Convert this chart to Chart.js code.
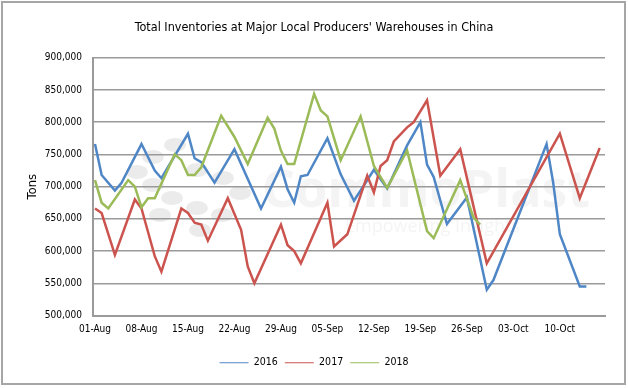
<!DOCTYPE html>
<html>
<head>
<meta charset="utf-8">
<script src="https://cdn.jsdelivr.net/npm/chart.js@4.4.0/dist/chart.umd.min.js"></script>
<style>
  html, body { margin: 0; padding: 0; background: #fff; }
</style>
</head>
<body>
<canvas id="myChart" width="628" height="388"></canvas>
<script>
// tick labels on the date axis (day 0 = 01-Aug)
const tickLabels = ["01-Aug", "08-Aug", "15-Aug", "22-Aug", "29-Aug", "05-Sep",
  "12-Sep", "19-Sep", "26-Sep", "03-Oct", "10-Oct"];
const tickDays = [0, 7, 14, 21, 28, 35, 42, 49, 56, 63, 70];

// 2016 (days after 01-Aug, tons)
const days2016 = [0, 1, 3, 4, 7, 9, 10, 14, 15, 16, 18, 21, 25, 28, 29, 30, 31, 32,
  35, 37, 39, 42, 44, 47, 49, 50, 51, 53, 56, 59, 60, 68, 69, 70, 73, 74];
const tons2016 = [766000, 718000, 694000, 706000, 766000, 725000, 713000, 782000,
  744000, 738000, 706000, 758000, 666000, 731000, 696000, 675000, 716000, 718000,
  775000, 719000, 678000, 726000, 697000, 764000, 800000, 734000, 715000, 642000,
  683000, 540000, 555000, 766000, 706000, 626000, 545000, 545000];

// 2017
const days2017 = [0, 1, 3, 6, 7, 9, 10, 13, 14, 15, 16, 17, 20, 22, 23, 24, 28, 29,
  30, 31, 35, 36, 38, 41, 42, 43, 44, 45, 47, 48, 50, 52, 55, 59, 70, 73, 76];
const tons2017 = [666000, 659000, 594000, 680000, 666000, 592000, 568000, 666000,
  659000, 644000, 641000, 616000, 682000, 633000, 576000, 550000, 641000, 609000,
  600000, 581000, 675000, 607000, 626000, 717000, 691000, 732000, 741000, 770000,
  792000, 800000, 834000, 717000, 758000, 581000, 782000, 682000, 760000];

// 2018
const days2018 = [0, 1, 2, 5, 6, 7, 8, 9, 12, 13, 14, 15, 16, 19, 21, 23, 26, 27, 28,
  29, 30, 33, 34, 35, 37, 40, 42, 44, 47, 50, 51, 55, 57, 58];
const tons2018 = [710000, 675000, 666000, 710000, 700000, 668000, 682000, 682000,
  750000, 741000, 718000, 718000, 730000, 810000, 777000, 735000, 807000, 790000,
  756000, 735000, 735000, 844000, 818000, 809000, 741000, 809000, 732000, 698000,
  756000, 631000, 620000, 710000, 652000, 641000];

const yTicks = { min: 500000, max: 900000, step: 50000 };

function toPoints(days, tons) {
  return days.map((d, i) => ({ x: d, y: tons[i] }));
}

const narrow = "'Liberation Sans Narrow', 'DejaVu Sans Condensed', sans-serif";
const tickFont = { family: narrow, size: 10 };

// white background, frame and faint watermark
const backdrop = {
  id: "backdrop",
  beforeDraw(chart) {
    const ctx = chart.ctx;
    ctx.save();
    ctx.fillStyle = "#fff";
    ctx.fillRect(0, 0, chart.width, chart.height);
    ctx.strokeStyle = "#a6a6a6";
    ctx.lineWidth = 2;
    ctx.strokeRect(2, 2, chart.width - 5, chart.height - 6);
    // watermark dots
    ctx.fillStyle = "rgba(205,205,205,0.4)";
    const dots = [[175, 145], [153, 157], [137, 172], [153, 185], [172, 198],
      [197, 208], [200, 230], [223, 178], [240, 193], [197, 170], [222, 215], [160, 215]];
    dots.forEach(([x, y]) => {
      ctx.beginPath();
      ctx.ellipse(x, y, 11, 7, 0, 0, Math.PI * 2);
      ctx.fill();
    });
    ctx.fillStyle = "rgba(220,220,220,0.3)";
    ctx.font = "bold 52px 'Open Sans', sans-serif";
    ctx.textBaseline = "alphabetic";
    ctx.fillText("CommoPlast", 262, 207);
    ctx.font = "18px 'Open Sans', sans-serif";
    ctx.fillText("Empowering Insights", 345, 232);
    ctx.restore();
  }
};

const ctx = document.getElementById("myChart").getContext("2d");
const myChart = new Chart(ctx, {
  type: "line",
  data: {
    datasets: [
      { label: "2016", data: toPoints(days2016, tons2016), borderColor: "#4f86c6",
        backgroundColor: "#4f86c6", order: 3 },
      { label: "2017", data: toPoints(days2017, tons2017), borderColor: "#cc544f",
        backgroundColor: "#cc544f", order: 2 },
      { label: "2018", data: toPoints(days2018, tons2018), borderColor: "#9bbb59",
        backgroundColor: "#9bbb59", order: 1 }
    ]
  },
  options: {
    responsive: false,
    animation: false,
    events: [],
    elements: {
      line: { borderWidth: 2.5, tension: 0, fill: false },
      point: { radius: 0 }
    },
    layout: { padding: { left: 0, right: 0, top: 0, bottom: 10 } },
    plugins: {
      title: {
        display: true,
        text: "Total Inventories at Major Local Producers' Warehouses in China",
        color: "#000",
        font: { family: narrow, size: 12.5, weight: "normal" },
        padding: { top: 20, bottom: 22.7 }
      },
      legend: {
        position: "bottom",
        labels: {
          color: "#000",
          font: { family: narrow, size: 10.5 },
          usePointStyle: true,
          pointStyle: "line",
          pointStyleWidth: 29,
          boxHeight: 11,
          padding: 7,
          sort: (a, b) => a.datasetIndex - b.datasetIndex
        }
      },
      tooltip: { enabled: false }
    },
    scales: {
      x: {
        type: "linear",
        min: -0.3,
        max: 76.8,
        grid: { display: false, drawTicks: false },
        border: { color: "#9a9a9a", width: 2 },
        afterBuildTicks: (scale) => { scale.ticks = tickDays.map(v => ({ value: v })); },
        ticks: {
          color: "#000",
          font: tickFont,
          padding: 8,
          maxRotation: 0,
          autoSkip: false,
          callback: (value) => tickLabels[tickDays.indexOf(value)]
        },
        afterFit: (scale) => { scale.height = 35; }
      },
      y: {
        min: yTicks.min,
        max: yTicks.max,
        grid: { color: "#9a9a9a", lineWidth: 1.5, drawTicks: false },
        border: { color: "#9a9a9a", width: 2 },
        ticks: {
          stepSize: yTicks.step,
          color: "#000",
          font: tickFont,
          padding: 11,
          callback: (v) => v.toLocaleString("en-US")
        },
        title: {
          display: true,
          text: "Tons",
          color: "#000",
          font: { family: narrow, size: 13 },
          padding: { top: 25, bottom: 0 }
        },
        afterFit: (scale) => { scale.width = 93; }
      },
      // empty right-hand margin so the plot ends where the reference does
      yRight: {
        position: "right",
        display: true,
        min: yTicks.min,
        max: yTicks.max,
        grid: { display: false, drawTicks: false },
        border: { display: false },
        ticks: { display: false },
        afterFit: (scale) => { scale.width = 23; }
      }
    }
  },
  plugins: [backdrop]
});
</script>
</body>
</html>
